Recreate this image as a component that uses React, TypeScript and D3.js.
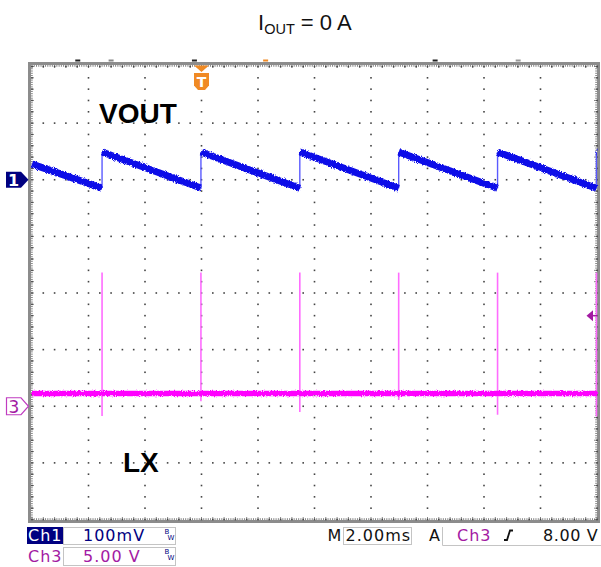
import React from 'react';
import * as d3 from 'd3';

// ---- data ----
const timeDomainMs = [-6, 14]; // 2 ms/div, trigger at 0
const ch1DomainMv = [-600, 200]; // 100 mV/div, ch1 ground 2 div above centre
const ch3DomainV = [-10, 30]; // 5 V/div, ch3 ground 2 div below centre

const voutJumpTimes = [-3.52, -0.02, 3.48, 6.98, 10.48, 13.98];
const voutSegStartMv = [27.7, 49, 49, 49, 49, 49, 49];
const voutSegEndMv = [-14.7, -14.7, -15, -15, -15, -15, 48.8];

const lxBaselineV = 1.13;
const lxSpikeTimes = [-3.52, -0.02, 3.48, 6.98, 10.48, 13.98];
const lxSpikeHighV = [11.8, 11.8, 11.8, 11.8, 11.8, 11.8];
const lxSpikeLowV = [-0.87, 0.45, -0.5, 0.55, -0.75, -0.9];

const triggerLevelV = 8.0;
const topMarkTimes = [-4.38, -3.2, -0.25, 2.27, 8.27, 11.21];
const topMarkColors = ['#222', '#888', '#222', '#f08a24', '#222', '#999'];

const titleMain = 'I';
const titleSub = 'OUT';
const titleRest = ' = 0 A';
const labelVout = 'VOUT';
const labelLx = 'LX';
const ch1Scale = '100mV';
const ch3Scale = '5.00 V';
const timeBase = '2.00ms';
const trigSource = 'Ch3';
const trigLevel = '8.00 V';

const X0 = 32, X1 = 597, Y0 = 66.5, Y1 = 519.5;
const NAVY = '#000080';
const PURPLE = '#a31aa3';

export default function App() {
  const x = d3.scaleLinear().domain(timeDomainMs).range([X0, X1]);
  const y1 = d3.scaleLinear().domain(ch1DomainMv).range([Y1, Y0]);
  const y3 = d3.scaleLinear().domain(ch3DomainV).range([Y1, Y0]);
  const divX = (X1 - X0) / 10;
  const divY = (Y1 - Y0) / 8;

  // grid dots
  const dots: JSX.Element[] = [];
  for (let i = 0; i <= 10; i++) {
    const gx = X0 + i * divX;
    for (let k = 0; k <= 40; k++) {
      const gy = Y0 + (k * divY) / 5;
      dots.push(<rect key={`v${i}-${k}`} x={gx - 0.8} y={gy - 0.8} width={1.6} height={1.6} fill="#444" />);
    }
  }
  for (let j = 0; j <= 8; j++) {
    const gy = Y0 + j * divY;
    for (let k = 0; k <= 50; k++) {
      if (k % 5 === 0) continue;
      const gx = X0 + (k * divX) / 5;
      dots.push(<rect key={`h${j}-${k}`} x={gx - 0.8} y={gy - 0.8} width={1.6} height={1.6} fill="#444" />);
    }
  }
  // border ruler ticks
  const ticks: JSX.Element[] = [];
  for (let k = 0; k <= 250; k++) {
    const tx = X0 + (k * divX) / 25;
    const len = k % 5 === 0 ? 3 : 1.8;
    ticks.push(<line key={`tt${k}`} x1={tx} x2={tx} y1={65} y2={65 + len} stroke="#666" strokeWidth={0.8} />);
    ticks.push(<line key={`tb${k}`} x1={tx} x2={tx} y1={520} y2={520 - len} stroke="#666" strokeWidth={0.8} />);
  }
  for (let k = 0; k <= 200; k++) {
    const ty = Y0 + (k * divY) / 25;
    const len = k % 5 === 0 ? 3 : 1.8;
    ticks.push(<line key={`tl${k}`} y1={ty} y2={ty} x1={31} x2={31 + len} stroke="#666" strokeWidth={0.8} />);
    ticks.push(<line key={`tr${k}`} y1={ty} y2={ty} x1={597} x2={597 - len} stroke="#666" strokeWidth={0.8} />);
  }

  // VOUT segments
  const segStarts = [timeDomainMs[0], ...voutJumpTimes];
  const segEnds = [...voutJumpTimes, timeDomainMs[1]];
  const line = d3.line<[number, number]>().x(d => d[0]).y(d => d[1]);
  const voutSegs = segStarts.map((t0, i) =>
    line([
      [x(t0), y1(voutSegStartMv[i])],
      [x(segEnds[i]), y1(voutSegEndMv[i])],
    ])
  );
  const voutEdges = voutJumpTimes.map((t, i) => ({
    x: x(t),
    yLow: y1(voutSegEndMv[i]),
    yHigh: y1(voutSegStartMv[i + 1]),
  }));

  const trigX = x(0);
  const ch1Y = y1(0);
  const ch3Y = y3(0);
  const trigY = y3(triggerLevelV);

  const statusFont = { fontFamily: '"DejaVu Sans", sans-serif', fontSize: 16, letterSpacing: 1 } as const;

  return (
    <svg width={601} height={567} style={{ position: 'absolute', left: 0, top: 0, background: '#fff' }}>
      <defs>
        <filter id="grain" filterUnits="userSpaceOnUse" x={0} y={0} width={601} height={567}>
          <feTurbulence type="fractalNoise" baseFrequency="0.9 1.4" numOctaves={2} seed={3} result="n" />
          <feDisplacementMap in="SourceGraphic" in2="n" scale={3.5} xChannelSelector="R" yChannelSelector="G" />
        </filter>
      </defs>
      <rect width={601} height={567} fill="#fff" />
      {/* title */}
      <text x={258} y={29.5} fontFamily='"Liberation Sans", Arial, sans-serif' fontSize={22} fill="#111">
        {titleMain}
        <tspan fontSize={14.5} dy={4}>{titleSub}</tspan>
        <tspan dy={-4}>{titleRest}</tspan>
      </text>

      {/* top marks */}
      {topMarkTimes.map((t, i) => (
        <rect key={`m${i}`} x={x(t) - 2.5} y={59.5} width={5} height={2} fill={topMarkColors[i]} />
      ))}

      {/* frame */}
      <rect x={29.5} y={63.5} width={569} height={458} fill="none" stroke="#8c8c8c" strokeWidth={3} />
      {ticks}
      {dots}

      {/* LX */}
      {lxSpikeTimes.map((t, i) => (
        <line key={`s${i}`} x1={x(t)} x2={x(t)} y1={y3(lxSpikeHighV[i])} y2={y3(lxSpikeLowV[i])} stroke="#ff6cff" strokeWidth={1.6} />
      ))}
      <g filter="url(#grain)">
        <path d={line([[x(timeDomainMs[0]), y3(lxBaselineV)], [x(timeDomainMs[1]), y3(lxBaselineV)]]) || ''} stroke="#ff00ff" strokeWidth={5.5} fill="none" />
      </g>

      {/* VOUT */}
      {voutEdges.map((e, i) => (
        <line key={`e${i}`} x1={e.x} x2={e.x} y1={e.yLow} y2={e.yHigh} stroke="#5a5aff" strokeWidth={1.4} />
      ))}
      <g filter="url(#grain)">
        {voutSegs.map((d, i) => (
          <path key={`v${i}`} d={d || ''} stroke="#1010e8" strokeWidth={7} fill="none" strokeLinecap="butt" />
        ))}
      </g>

      {/* labels */}
      <text x={99} y={123} fontFamily='"Liberation Sans", Arial, sans-serif' fontWeight="bold" fontSize={28} fill="#000">{labelVout}</text>
      <text x={123} y={472} fontFamily='"Liberation Sans", Arial, sans-serif' fontWeight="bold" fontSize={28} fill="#000">{labelLx}</text>

      {/* trigger T marker */}
      <path d={`M${trigX - 7.5},65.5 L${trigX + 7.5},65.5 L${trigX},72 Z`} fill="#f08a24" />
      <path d={`M${trigX - 7.5},73 H${trigX + 7.5} V85.5 L${trigX + 3.5},90 H${trigX - 3.5} L${trigX - 7.5},85.5 Z`} fill="#f08a24" />
      <text x={trigX} y={86.5} textAnchor="middle" fontFamily='"DejaVu Sans", sans-serif' fontWeight="bold" fontSize={14} fill="#fff">T</text>

      {/* ch1 marker */}
      <path d={`M6,${ch1Y - 8} H21 L28.5,${ch1Y} L21,${ch1Y + 8} H6 Z`} fill={NAVY} />
      <text x={13.5} y={ch1Y + 6} textAnchor="middle" fontFamily='"DejaVu Sans", sans-serif' fontWeight="bold" fontSize={16} fill="#fff">1</text>

      {/* ch3 marker */}
      <path d={`M6.5,${ch3Y - 8.5} H21 L28.5,${ch3Y} L21,${ch3Y + 8.5} H6.5 Z`} fill="#fff" stroke="#c03cc0" strokeWidth={1.2} />
      <text x={14} y={ch3Y + 6.5} textAnchor="middle" fontFamily='"DejaVu Sans", sans-serif' fontSize={17} fill={PURPLE}>3</text>

      {/* trigger level arrow */}
      <path d={`M586.5,${trigY} L593,${trigY - 5.5} L593,${trigY + 5.5} Z`} fill={PURPLE} />
      <line x1={592} x2={597} y1={trigY} y2={trigY} stroke={PURPLE} strokeWidth={1.5} />

      {/* status bar */}
      <rect x={27} y={527} width={36} height={17} fill={NAVY} />
      <text x={28} y={540.5} {...statusFont} fill="#fff">Ch1</text>
      <rect x={63.5} y={527.5} width={112} height={17} fill="none" stroke="#c4c4c4" strokeWidth={1} />
      <text x={83} y={540.5} {...statusFont} fill={NAVY}>{ch1Scale}</text>
      <text x={164.5} y={533.5} fontFamily='"DejaVu Sans", sans-serif' fontSize={7} fill={NAVY}>B</text>
      <text x={167.5} y={540} fontFamily='"DejaVu Sans", sans-serif' fontSize={7} fill={NAVY}>W</text>

      <text x={28} y={562} {...statusFont} fill={PURPLE}>Ch3</text>
      <rect x={63.5} y={547.5} width={112} height={18} fill="none" stroke="#c4c4c4" strokeWidth={1} />
      <text x={83} y={562} {...statusFont} fill={PURPLE}>{ch3Scale}</text>
      <text x={164.5} y={553.5} fontFamily='"DejaVu Sans", sans-serif' fontSize={7} fill={NAVY}>B</text>
      <text x={167.5} y={560} fontFamily='"DejaVu Sans", sans-serif' fontSize={7} fill={NAVY}>W</text>

      <text x={327.5} y={540.5} {...statusFont} fill="#111">M</text>
      <rect x={343.5} y={527.5} width={68} height={17} fill="none" stroke="#c4c4c4" strokeWidth={1} />
      <text x={345.5} y={540.5} {...statusFont} fill="#111">{timeBase}</text>
      <text x={429} y={540.5} {...statusFont} fill="#111">A</text>
      <path d="M442.5,527 V545.5 H601" fill="none" stroke="#c4c4c4" strokeWidth={1} />
      <text x={457} y={540.5} {...statusFont} fill={PURPLE}>{trigSource}</text>
      <path d="M504,540 H507 L510,530.5 H513" fill="none" stroke="#111" strokeWidth={1.8} />
      <text x={543} y={540.5} {...statusFont} letterSpacing={0.6} fill="#111">{trigLevel}</text>
    </svg>
  );
}
